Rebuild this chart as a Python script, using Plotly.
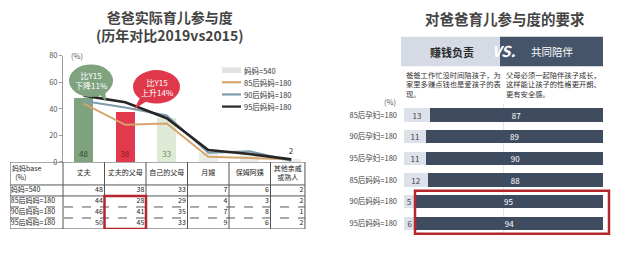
import plotly.graph_objects as go

# ---------------- data ----------------
categories = ["丈夫", "丈夫的父母", "自己的父母", "月嫂", "保姆阿姨", "其他亲戚或熟人"]
table_headers = ["丈夫", "丈夫的父母", "自己的父母", "月嫂", "保姆阿姨", "其他亲戚<br>或熟人"]
row_labels = ["妈妈=540", "85后妈妈=180", "90后妈妈=180", "95后妈妈=180"]
mom_all = [48, 38, 33, 7, 6, 2]
mom_85 = [44, 28, 29, 4, 3, 2]
mom_90 = [46, 41, 35, 7, 8, 1]
mom_95 = [50, 45, 33, 9, 6, 2]
table_rows = [mom_all, mom_85, mom_90, mom_95]

right_labels = ["85后孕妇=180", "90后孕妇=180", "95后孕妇=180",
                "85后妈妈=180", "90后妈妈=180", "95后妈妈=180"]
earn_money = [13, 11, 11, 12, 5, 6]
accompany = [87, 89, 90, 88, 95, 94]

FONT = "Noto Sans CJK SC, Noto Sans, sans-serif"
W, H = 625, 256


def px(x):
    return x / W


def py(y):
    return 1 - y / H


fig = go.Figure()

# ---------------- left chart ----------------
bar_colors = ["#7fa37f", "#e23a4c", "#dfead6", "#e9ede7", "#e9ede7", "#e9ede7"]
bar_text_colors = ["#2f4a2f", "#8a1822", "#5f8f4f", "#555", "#555", "#333"]
bar_text = [str(v) if i < 3 or i == 5 else "" for i, v in enumerate(mom_all)]
bar_textpos = ["inside", "inside", "inside", "none", "none", "outside"]
fig.add_trace(go.Bar(
    x=categories, y=mom_all, width=0.46, marker=dict(color=bar_colors, line=dict(width=0)),
    text=bar_text, textposition=bar_textpos, insidetextanchor="start", textangle=0,
    textfont=dict(size=8, color=bar_text_colors), constraintext="none", cliponaxis=False,
    xaxis="x", yaxis="y", showlegend=False, hoverinfo="skip"))

line_series = [(mom_85, "#d7a46e", 2), (mom_90, "#7d9caa", 2), (mom_95, "#262626", 2.6)]
for vals, col, w in line_series:
    fig.add_trace(go.Scatter(x=categories, y=vals, mode="lines",
                             line=dict(color=col, width=w), xaxis="x", yaxis="y",
                             showlegend=False, hoverinfo="skip"))

# ---------------- table (left bottom) ----------------
bounds = [-1.777, -0.5, 0.5, 1.5, 2.5, 3.5, 4.5, 5.33]
header_h = 24
row_h = 11.5
row_edges = [0, header_h] + [header_h + row_h * (i + 1) for i in range(len(row_labels))]
total_h = row_edges[-1]
col_centers = [(bounds[i + 1] + bounds[i + 2]) / 2 for i in range(len(table_headers))]
TF = dict(size=7, color="#222", family=FONT)

fig.add_trace(go.Scatter(
    x=col_centers, y=[header_h / 2] * len(table_headers), text=table_headers,
    mode="text", textposition="middle center", textfont=TF,
    xaxis="x2", yaxis="y2", showlegend=False, hoverinfo="skip"))
fig.add_trace(go.Scatter(
    x=[bounds[0] + 0.05], y=[header_h / 2], text=["妈妈base<br>  (%)"],
    mode="text", textposition="middle right", textfont=TF,
    xaxis="x2", yaxis="y2", showlegend=False, hoverinfo="skip"))
row_centers = [(row_edges[i + 1] + row_edges[i + 2]) / 2 for i in range(len(row_labels))]
fig.add_trace(go.Scatter(
    x=[bounds[0] + 0.02] * len(row_labels), y=row_centers, text=row_labels,
    mode="text", textposition="middle right", textfont=TF,
    xaxis="x2", yaxis="y2", showlegend=False, hoverinfo="skip"))
vx, vy, vt = [], [], []
for r, vals in enumerate(table_rows):
    for c, v in enumerate(vals):
        vx.append(bounds[c + 2] - 0.04)
        vy.append(row_centers[r])
        vt.append(str(v))
fig.add_trace(go.Scatter(
    x=vx, y=vy, text=vt, mode="text", textposition="middle left", textfont=TF,
    xaxis="x2", yaxis="y2", showlegend=False, hoverinfo="skip"))

shapes = []
# table grid
for i, ye in enumerate(row_edges):
    dash = "dash" if i in (3, 4) else "solid"
    shapes.append(dict(type="line", xref="x2", yref="y2", x0=bounds[0], x1=bounds[-1],
                       y0=ye, y1=ye, line=dict(color="#555", width=1, dash=dash)))
for b in bounds:
    shapes.append(dict(type="line", xref="x2", yref="y2", x0=b, x1=b, y0=0, y1=total_h,
                       line=dict(color="#555", width=1)))
# red highlight in table
shapes.append(dict(type="rect", xref="x2", yref="y2", x0=bounds[2], x1=bounds[3],
                   y0=row_edges[2], y1=total_h, line=dict(color="#b3262c", width=2.5)))

# ---------------- right chart ----------------
fig.add_trace(go.Bar(
    y=right_labels, x=earn_money, orientation="h", width=0.62,
    marker=dict(color="#dde1ea", line=dict(width=0)),
    text=[str(v) for v in earn_money], textposition="inside", insidetextanchor="middle",
    textangle=0, textfont=dict(size=8, color="#444"), constraintext="none",
    xaxis="x3", yaxis="y3", showlegend=False, hoverinfo="skip"))
fig.add_trace(go.Bar(
    y=right_labels, x=accompany, orientation="h", width=0.62,
    marker=dict(color="#3f4c60", line=dict(width=0)),
    text=[str(v) for v in accompany], textposition="inside", insidetextanchor="middle",
    textangle=0, textfont=dict(size=8, color="#ffffff"), constraintext="none",
    xaxis="x3", yaxis="y3", showlegend=False, hoverinfo="skip"))

# red highlight on right
shapes.append(dict(type="rect", xref="paper", yref="paper", x0=px(415), x1=px(609),
                   y0=py(238), y1=py(193), line=dict(color="#b3262c", width=2.5)))
# header boxes
shapes.append(dict(type="rect", xref="paper", yref="paper", x0=px(401), x1=px(500),
                   y0=py(63), y1=py(32), fillcolor="#d5dae4", line=dict(width=0), layer="below"))
shapes.append(dict(type="rect", xref="paper", yref="paper", x0=px(500), x1=px(603),
                   y0=py(63), y1=py(32), fillcolor="#46546a", line=dict(width=0), layer="below"))

# speech bubbles
shapes.append(dict(type="path", xref="paper", yref="paper",
                   path=f"M {px(96)},{py(88)} L {px(106)},{py(100)} L {px(105)},{py(85)} Z",
                   fillcolor="#7fa27f", line=dict(width=0)))
shapes.append(dict(type="circle", xref="paper", yref="paper", x0=px(69), x1=px(113),
                   y0=py(95), y1=py(61), fillcolor="#7fa27f", line=dict(width=0)))
shapes.append(dict(type="path", xref="paper", yref="paper",
                   path=f"M {px(140)},{py(96)} L {px(134)},{py(108)} L {px(149)},{py(98)} Z",
                   fillcolor="#e0384b", line=dict(width=0)))
shapes.append(dict(type="circle", xref="paper", yref="paper", x0=px(133), x1=px(180),
                   y0=py(102), y1=py(67), fillcolor="#e0384b", line=dict(width=0)))

# manual legend
legend_items = [("妈妈=540", "#e2e4e2", "rect"), ("85后妈妈=180", "#d7a46e", "line"),
                ("90后妈妈=180", "#7d9caa", "line"), ("95后妈妈=180", "#262626", "line")]
annotations = []
for i, (name, col, kind) in enumerate(legend_items):
    yy = 67 + 12.7 * i
    if kind == "rect":
        shapes.append(dict(type="rect", xref="paper", yref="paper", x0=px(222), x1=px(241),
                           y0=py(yy + 3), y1=py(yy - 3), fillcolor=col, line=dict(width=0)))
    else:
        shapes.append(dict(type="line", xref="paper", yref="paper", x0=px(222), x1=px(241),
                           y0=py(yy), y1=py(yy), line=dict(color=col, width=2.2)))
    annotations.append(dict(text=name, x=px(242), y=py(yy), xanchor="left",
                            font=dict(size=7.5, color="#333")))

# titles and texts
annotations += [
    dict(text="<b>爸爸实际育儿参与度<br>(历年对比2019vs2015)</b>", x=px(170), y=py(21),
         font=dict(size=14, color="#444")),
    dict(text="<b>对爸爸育儿参与度的要求</b>", x=px(505), y=py(13), font=dict(size=14.5, color="#444")),
    dict(text="(%)", x=px(77), y=py(52), font=dict(size=7.5, color="#555")),
    dict(text="(%)", x=px(390), y=py(100), font=dict(size=7.5, color="#555")),
    dict(text="比Y15<br>下降11%", x=px(91), y=py(78), font=dict(size=8, color="#ffffff")),
    dict(text="比Y15<br>上升14%", x=px(157), y=py(85), font=dict(size=8, color="#ffffff")),
    dict(text="<b>赚钱负责</b>", x=px(452), y=py(48), font=dict(size=11, color="#2a2a2a")),
    dict(text="共同陪伴", x=px(552), y=py(48), font=dict(size=10.5, color="#ffffff")),
    dict(text="<b><i>VS.</i></b>", x=px(503), y=py(47), font=dict(size=15, color="#ffffff")),
    dict(text="爸爸工作忙没时间陪孩子，为<br>家里多赚点钱也是爱孩子的表<br>现。",
         x=px(404), y=py(65), xanchor="left", yanchor="top", align="left",
         font=dict(size=7.3, color="#333")),
    dict(text="父母必须一起陪伴孩子成长，<br>这样能让孩子的性格更开朗、<br>更有安全感。",
         x=px(504), y=py(65), xanchor="left", yanchor="top", align="left",
         font=dict(size=7.3, color="#333")),
]
for a in annotations:
    a.setdefault("xref", "paper")
    a.setdefault("yref", "paper")
    a.setdefault("showarrow", False)
    a.setdefault("xanchor", "center")
    a.setdefault("yanchor", "middle")

fig.update_layout(
    width=W, height=H, margin=dict(l=0, r=0, t=0, b=0),
    paper_bgcolor="white", plot_bgcolor="rgba(0,0,0,0)",
    font=dict(family=FONT, color="#333"),
    barmode="stack", showlegend=False,
    xaxis=dict(domain=[px(63), px(312)], range=[-0.5, 5.5], showticklabels=False,
               showgrid=False, zeroline=False, showline=False, anchor="y"),
    yaxis=dict(domain=[py(163), py(52)], range=[0, 80], tickvals=[0, 20, 40, 60, 80],
               showgrid=False, zeroline=False, showline=True, linecolor="#999", linewidth=1,
               ticks="outside", ticklen=3, tickcolor="#999", anchor="x",
               tickfont=dict(size=7.5, color="#555")),
    xaxis2=dict(domain=[px(10), px(312)], range=[-1.777, 5.5], visible=False, anchor="y2"),
    yaxis2=dict(domain=[py(163 + total_h), py(163)], range=[total_h, 0], visible=False,
                anchor="x2"),
    xaxis3=dict(domain=[px(404), px(603)], range=[0, 100], tickvals=[50], showticklabels=False,
                showgrid=True, gridcolor="#e6e6e6", zeroline=False, anchor="y3"),
    yaxis3=dict(domain=[py(238.4), py(102.6)], autorange="reversed", showgrid=False,
                zeroline=False, ticks="", tickfont=dict(size=7.5, color="#444"),
                ticklabelstandoff=6, anchor="x3"),
    shapes=shapes, annotations=annotations,
)

fig.write_html("out.html")
